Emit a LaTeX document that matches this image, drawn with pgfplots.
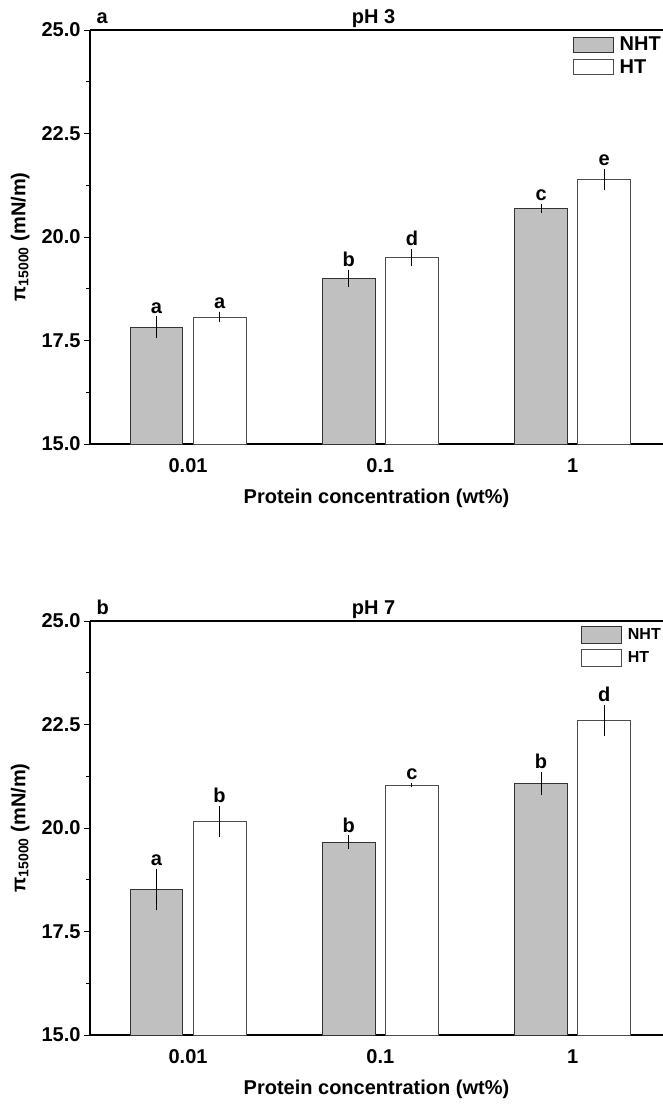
\documentclass[border=0pt]{standalone}
\usepackage{pgfplots}
\pgfplotsset{compat=1.18}
\usepackage{pgfplotstable}
\usepackage{fontspec}
\setmainfont{Liberation Sans}

\pgfplotstableread{
x n en ln h eh lh
0 17.82 0.26 a 18.07 0.13 a
1 19.00 0.21 b 19.51 0.21 d
2 20.69 0.10 c 21.39 0.25 e
}\phthree

\pgfplotstableread{
x n en ln h eh lh
0 18.52 0.50 a 20.16 0.38 b
1 19.66 0.16 b 21.04 0.05 c
2 21.07 0.28 b 22.60 0.38 d
}\phseven

\newcommand\fs{\bfseries\fontsize{20bp}{22bp}\selectfont}
\definecolor{barg}{RGB}{192,192,192}

\pgfplotsset{
 panel/.style={
  scale only axis, width=573bp, height=414bp,
  xmin=-0.51, xmax=2.47, ymin=15, ymax=25,
  clip mode=individual,
  axis y line*=left,
  xtick={0,1,2}, xticklabels={0.01,0.1,1},
  xtick style={draw=none},
  ytick={15,17.5,20,22.5,25}, minor ytick={16.25,18.75,21.25,23.75},
  tick align=outside,
  major tick length=6bp, minor tick length=3.5bp,
  tick style={black, line width=1bp},
  yticklabel style={/pgf/number format/.cd, fixed, fixed zerofill, precision=1},
  /pgf/number format/assume math mode=true,
  ticklabel style={font=\fs},
  xticklabel style={yshift=-5bp},
  label style={font=\fs},
  axis line style={line width=1.2bp},
  xlabel={Protein concentration (wt\%)},
  x label style={at={(axis description cs:0.5,0)}, anchor=center, yshift=-54bp},
  ylabel={π\textsubscript{15000} (mN/m)},
  y label style={at={(axis description cs:-0.122,0.5)}, anchor=center},
  legend cell align=left,
  legend image code/.code={\draw[#1,/tikz/.cd,line width=0.8bp] (0bp,-7.5bp) rectangle (40bp,7.5bp);},
  legend style={at={(1,0.988)}, anchor=north east, draw=none, fill=none, font=\fs, inner sep=0pt, row sep=3bp, /tikz/every odd column/.append style={column sep=4bp}},
 },
 nhtbar/.style={ybar, bar width=0.274, bar shift=0, fill=barg, draw=black!80, line width=0.8bp,
   error bars/.cd, y dir=both, y explicit, error mark=none, error bar style={line width=0.8bp, black}},
 htbar/.style={ybar, bar width=0.274, bar shift=0, fill=white, draw=black!70, line width=0.8bp,
   error bars/.cd, y dir=both, y explicit, error mark=none, error bar style={line width=0.8bp, black}},
 lab/.style={draw=none, mark=none, forget plot, nodes near coords, point meta=explicit symbolic,
   nodes near coords style={anchor=south, font=\fs, inner sep=2bp, yshift=1bp}},
}

\begin{document}
\begin{tikzpicture}
\useasboundingbox (0,0) rectangle (663bp,-1106bp);
\begin{axis}[panel, at={(90bp,-444bp)}, anchor=south west]
\addplot[nhtbar] table[x expr=\thisrow{x}-0.164, y=n, y error=en]{\phthree};
\addlegendentry{NHT}
\addplot[htbar] table[x expr=\thisrow{x}+0.164, y=h, y error=eh]{\phthree};
\addlegendentry{HT}
\addplot[lab] table[x expr=\thisrow{x}-0.164, y expr=\thisrow{n}+\thisrow{en}, meta=ln]{\phthree};
\addplot[lab] table[x expr=\thisrow{x}+0.164, y expr=\thisrow{h}+\thisrow{eh}, meta=lh]{\phthree};
\node[font=\fs, anchor=base] at (rel axis cs:0.495,1) [yshift=7bp] {pH 3};
\node[font=\fs, anchor=base west] at (rel axis cs:0,1) [xshift=3bp, yshift=7bp] {a};
\end{axis}
\begin{axis}[panel, at={(90bp,-1035bp)}, anchor=south west,
  legend image code/.code={\draw[#1,/tikz/.cd,line width=0.8bp] (0bp,-8.5bp) rectangle (40bp,8.5bp);},
  legend style={font=\bfseries\fontsize{16bp}{18bp}\selectfont, row sep=5bp}]
\addplot[nhtbar] table[x expr=\thisrow{x}-0.164, y=n, y error=en]{\phseven};
\addlegendentry{NHT}
\addplot[htbar] table[x expr=\thisrow{x}+0.164, y=h, y error=eh]{\phseven};
\addlegendentry{HT}
\addplot[lab] table[x expr=\thisrow{x}-0.164, y expr=\thisrow{n}+\thisrow{en}, meta=ln]{\phseven};
\addplot[lab] table[x expr=\thisrow{x}+0.164, y expr=\thisrow{h}+\thisrow{eh}, meta=lh]{\phseven};
\node[font=\fs, anchor=base] at (rel axis cs:0.495,1) [yshift=7bp] {pH 7};
\node[font=\fs, anchor=base west] at (rel axis cs:0,1) [xshift=3bp, yshift=7bp] {b};
\end{axis}
\end{tikzpicture}
\end{document}
